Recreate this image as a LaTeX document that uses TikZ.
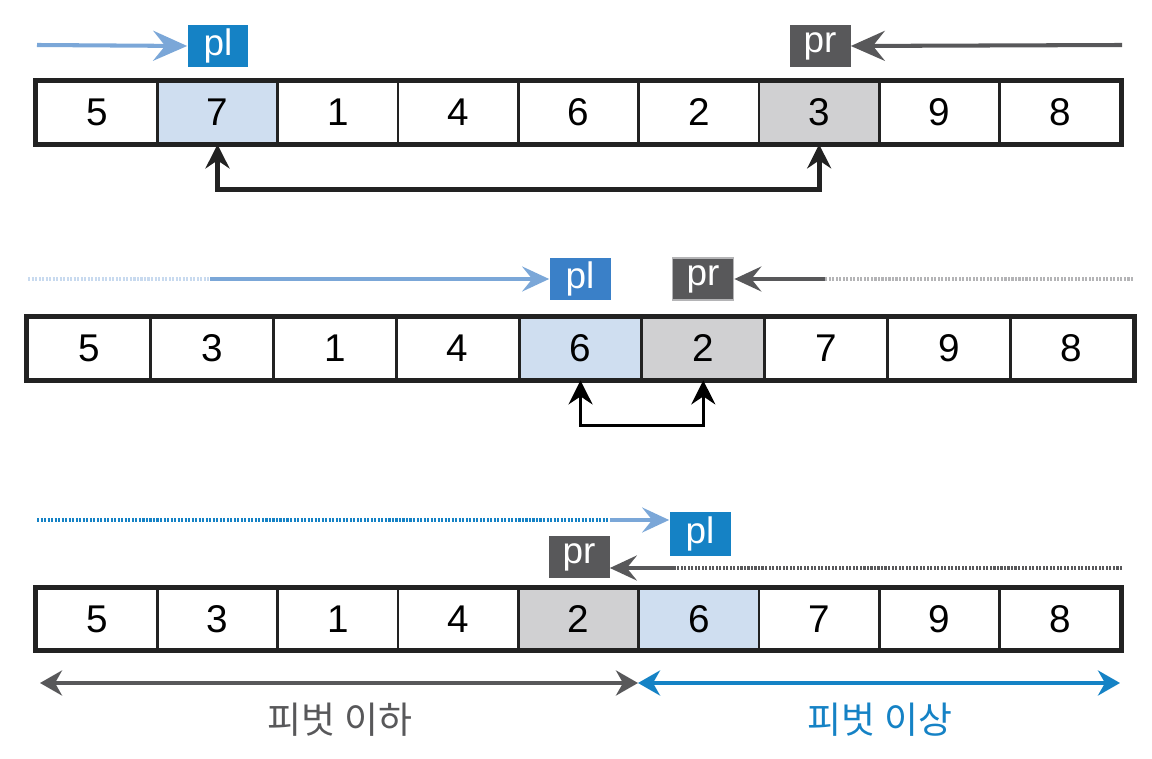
\documentclass[tikz,border=0pt]{standalone}
\usepackage{fontspec}
\setmainfont{Liberation Sans}
\newfontfamily\krfont{Noto Sans CJK KR}
\usetikzlibrary{arrows.meta}
\definecolor{cellblue}{HTML}{CFDEF0}
\definecolor{cellgray}{HTML}{D0D0D2}
\definecolor{plblue}{HTML}{1582C5}
\definecolor{plbluemid}{HTML}{3A80C8}
\definecolor{prgray}{HTML}{58585A}
\definecolor{arrblue}{HTML}{7BA7D8}
\definecolor{fadeblue}{HTML}{C8DAEF}
\definecolor{fadegray}{HTML}{B4B4B6}
\definecolor{linegray}{HTML}{222222}
\tikzset{
  cell/.style={draw=linegray, line width=1.6pt, minimum height=1.22cm, inner sep=0pt,
    font=\fontsize{22}{22}\selectfont},
  tag/.style={text=white, minimum width=1.22cm, minimum height=0.84cm, inner sep=0pt,
    font=\fontsize{21}{21}\selectfont},
  bigtip/.style={-{Stealth[length=0.68cm,width=0.6cm,inset=0.24cm]}},
  midtip/.style={-{Stealth[length=0.54cm,width=0.5cm,inset=0.2cm]}},
  swaptip/.style={{Stealth[length=0.48cm,width=0.48cm,inset=0.16cm]}-{Stealth[length=0.48cm,width=0.48cm,inset=0.16cm]}},
  rangetip/.style={{Stealth[length=0.44cm,width=0.5cm,inset=0.14cm]}-{Stealth[length=0.44cm,width=0.5cm,inset=0.14cm]}},
  dots/.style={dash pattern=on 1.2pt off 0.8pt},
}
\begin{document}
\begin{tikzpicture}[x=0.02cm,y=-0.02cm]
  \useasboundingbox (0,0) rectangle (1152,759);
  % first pass
  \foreach \v/\f [count=\i] in {5/white,7/cellblue,1/white,4/white,6/white,2/white,3/cellgray,9/white,8/white}
    \node[cell, fill=\f, minimum width=2.4066cm] (a\i) at ({37+120.33*(\i-0.5)},112.5) {\v};
  \draw[line width=2.8pt, linegray] (a1.north west) rectangle (a9.south east);
  \node[tag, fill=plblue] (pl1) at (218,46) {pl};
  \node[tag, fill=prgray] (pr1) at (820,46) {pr};
  \coordinate (s1) at (37,45);
  \coordinate (e1) at (1122,45);
  \draw[arrblue, line width=2.3pt, bigtip] (s1) -- (pl1.west);
  \draw[prgray, line width=2.3pt, bigtip] (e1) -- (pr1.east);
  \draw[linegray, line width=2.8pt, swaptip] (a2.south) -- ++(0,45) -| (a7.south);
  % second pass
  \foreach \v/\f [count=\i] in {5/white,3/white,1/white,4/white,6/cellblue,2/cellgray,7/white,9/white,8/white}
    \node[cell, fill=\f, minimum width=2.4556cm] (b\i) at ({28+122.78*(\i-0.5)},348.5) {\v};
  \draw[line width=2.8pt, linegray] (b1.north west) rectangle (b9.south east);
  \node[tag, fill=plbluemid] (pl2) at (580,279) {pl};
  \node[tag, fill=prgray, draw=fadegray, line width=1pt] (pr2) at (703,279) {pr};
  \coordinate (s2) at (28,279);
  \coordinate (m2) at (210,279);
  \coordinate (e2) at (1133,279);
  \coordinate (n2) at (825,279);
  \draw[fadeblue, line width=2pt, dots] (s2) -- (m2);
  \draw[arrblue, line width=2pt, midtip] (m2) -- (pl2.west);
  \draw[fadegray, line width=2pt, dots] (e2) -- (n2);
  \draw[prgray, line width=2pt, midtip] (n2) -- (pr2.east);
  \draw[black, line width=1.8pt, swaptip] (b5.south) -- ++(0,45) -| (b6.south);
  % third pass
  \foreach \v/\f [count=\i] in {5/white,3/white,1/white,4/white,2/cellgray,6/cellblue,7/white,9/white,8/white}
    \node[cell, fill=\f, minimum width=2.4066cm] (c\i) at ({37+120.33*(\i-0.5)},619) {\v};
  \draw[line width=2.8pt, linegray] (c1.north west) rectangle (c9.south east);
  \node[tag, fill=plblue, minimum height=0.88cm] (pl3) at (700,534) {pl};
  \node[tag, fill=prgray, minimum height=0.86cm] (pr3) at (579,557) {pr};
  \coordinate (s3) at (37,520);
  \coordinate (m3) at (610,520);
  \coordinate (e3) at (1122,568);
  \coordinate (n3) at (675,568);
  \draw[plblue, line width=2pt, dots] (s3) -- (m3);
  \draw[arrblue, line width=2.3pt, midtip] (m3) -- (pl3.west |- m3);
  \draw[prgray, line width=2pt, dots] (e3) -- (n3);
  \draw[prgray, line width=2.3pt, midtip] (n3) -- (pr3.east |- n3);
  % ranges
  \coordinate (lowL) at (40,683);
  \coordinate (mid) at (638,683);
  \coordinate (highR) at (1120,683);
  \draw[prgray, line width=2.3pt, rangetip] (lowL) -- (mid);
  \draw[plblue, line width=2.3pt, rangetip] (mid) -- (highR);
  \node[prgray, font=\krfont\fontsize{21}{21}\selectfont] (lowtxt) at (340,720) {피벗 이하};
  \node[plblue, font=\krfont\fontsize{21}{21}\selectfont] (hightxt) at (880,720) {피벗 이상};
\end{tikzpicture}
\end{document}
